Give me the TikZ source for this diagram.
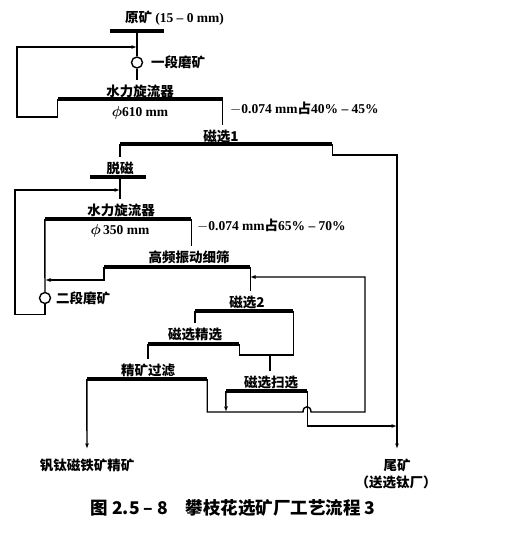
\documentclass[tikz,border=0pt]{standalone}
\usepackage{amsmath}
\usepackage{fontspec}
\setmainfont{Liberation Serif}
\newfontfamily\cjk{Noto Sans CJK SC}
\usetikzlibrary{arrows.meta,positioning}
\tikzset{
  bar/.style  = {fill=black, inner sep=0pt, minimum height=3.4pt},
  lbl/.style  = {inner sep=0pt, font=\fontsize{13.5}{15}\selectfont\cjk\bfseries},
  num/.style  = {inner sep=0pt, font=\fontsize{13.5}{15}\selectfont\bfseries},
  flow/.style = {line width=1.4pt},
  leg/.style  = {flow, shorten >=4pt},
  mill/.style = {draw, circle, line width=1.4pt, minimum size=11pt, inner sep=0pt}
}

\begin{document}
\begin{tikzpicture}[x=1pt,y=-1pt,>={Latex[length=5.5pt,width=4pt]}]
\useasboundingbox (0,0) rectangle (504,534);
% raw ore, primary grinding
\node[bar, minimum width=54pt] (raw) at (137,31) {};
\node[lbl, anchor=west] (rawlbl) at (125,18) {原矿 {\rmfamily (15 – 0 mm)}};
\node[mill] (mill1) at (137,62.5) {};
\node[lbl, anchor=west] (mill1lbl) at (151,62.5) {一段磨矿};
\coordinate (feed1) at (137,47);
% cyclone 1
\node[lbl] (cyc1lbl) at (140,91) {水力旋流器};
\node[bar, minimum width=165pt] (cyc1) at (140,99) {};
\node[num] (cyc1dia) at (140,113) {$\boldsymbol{\phi}$610 mm};
\node[num, anchor=west] (cyc1note) at (230,108) {$-$0.074 mm{\cjk 占}40\% – 45\%};
% magnetic separation 1
\node[lbl] (mag1lbl) at (221,136) {磁选1};
\node[bar, minimum width=212pt] (mag1) at (226,144) {};
% demagnetising
\node[lbl] (demaglbl) at (120,168) {脱磁};
\node[bar, minimum width=56pt] (demag) at (118,177) {};
\coordinate (feed2) at (120,190);
% cyclone 2, secondary grinding
\node[lbl] (cyc2lbl) at (121,210) {水力旋流器};
\node[bar, minimum width=146pt] (cyc2) at (118,219) {};
\node[num] (cyc2dia) at (120,231) {$\boldsymbol{\phi}$\,350 mm};
\node[num, anchor=west] (cyc2note) at (197,225) {$-$0.074 mm{\cjk 占}65\% – 70\%};
\node[mill] (mill2) at (45,298) {};
\node[lbl, anchor=west] (mill2lbl) at (56,298) {二段磨矿};
% fine screen
\node[lbl] (screenlbl) at (189,257) {高频振动细筛};
\node[bar, minimum width=146pt] (screen) at (177,267) {};
\coordinate (feed3) at (45,280);
\coordinate (feed4) at (250,277);
% magnetic separation 2, cleaner, scavenger
\node[lbl] (mag2lbl) at (247,302) {磁选2};
\node[bar, minimum width=98pt] (mag2) at (244,311) {};
\node[lbl] (cleanlbl) at (195,334) {磁选精选};
\node[bar, minimum width=91pt] (clean) at (193.5,344) {};
\coordinate (tails2) at (270,355);
\node[lbl] (filterlbl) at (148,370) {精矿过滤};
\node[bar, minimum width=120pt] (filter) at (147,379) {};
\node[lbl] (scavlbl) at (271,382) {磁选扫选};
\node[bar, minimum width=81pt] (scav) at (266.5,391) {};
\coordinate (ret) at (226,412);
\coordinate (tailjoin) at (397,426);
% products
\coordinate (concend) at (87,449);
\coordinate (tailend) at (397,449);
\node[lbl] (conclbl) at (87,465) {钒钛磁铁矿精矿};
\node[lbl] (taillbl) at (397,465) {尾矿};
\node[lbl] (taildest) at (396,482) {（送选钛厂）};
\node[font=\fontsize{17.5}{19}\selectfont\cjk\bfseries] (caption) at (233,508) {图 2.5 – 8\quad 攀枝花选矿厂工艺流程 3};

% flows
\draw[flow] (raw) -- (mill1);
\draw[leg] (mill1) -- (mill1 |- cyc1lbl.north);
\draw[flow,->] (cyc1.west) -- ++(0,18) -| ([xshift=-120pt]feed1) -- (feed1);
\draw[leg] (cyc1.east) -- (cyc1.east |- mag1lbl.north);
\draw[leg] (mag1.west) -- (mag1.west |- demaglbl.north);
\draw[flow,->] (mag1.east) -- ++(0,11) -| (tailend);
\draw[leg] (demag.center -| feed2) -- (feed2 |- cyc2lbl.north);
\draw[flow,->] (mill2.south) -- ++(0,10) -| ([xshift=-105pt]feed2) -- (feed2);
\draw[flow] (cyc2.west) -- (mill2);
\draw[leg] (cyc2.east) -- (cyc2.east |- screenlbl.north);
\draw[flow,->] (screen.west) -- ++(0,13) -- (feed3);
\draw[leg] (screen.east) -- (screen.east |- mag2lbl.north);
\draw[leg] (mag2.west) -- (mag2.west |- cleanlbl.north);
\draw[flow] (mag2.east) |- ([yshift=-11pt]clean.east) -- (clean.east);
\draw[leg] (tails2) -- (tails2 |- scavlbl.north);
\draw[leg] (clean.west) -- (clean.west |- filterlbl.north);
\draw[flow,->] (filter.west) -- (concend);
\draw[flow,->] (filter.east) |- (303,412) .. controls (303,405) and (311,405) .. (311,412)
  -| ([xshift=115pt]feed4) -- (feed4);
\draw[flow,->] (scav.west) -- (ret);
\draw[flow,->] (scav.east) |- (tailjoin);
\end{tikzpicture}
\end{document}
